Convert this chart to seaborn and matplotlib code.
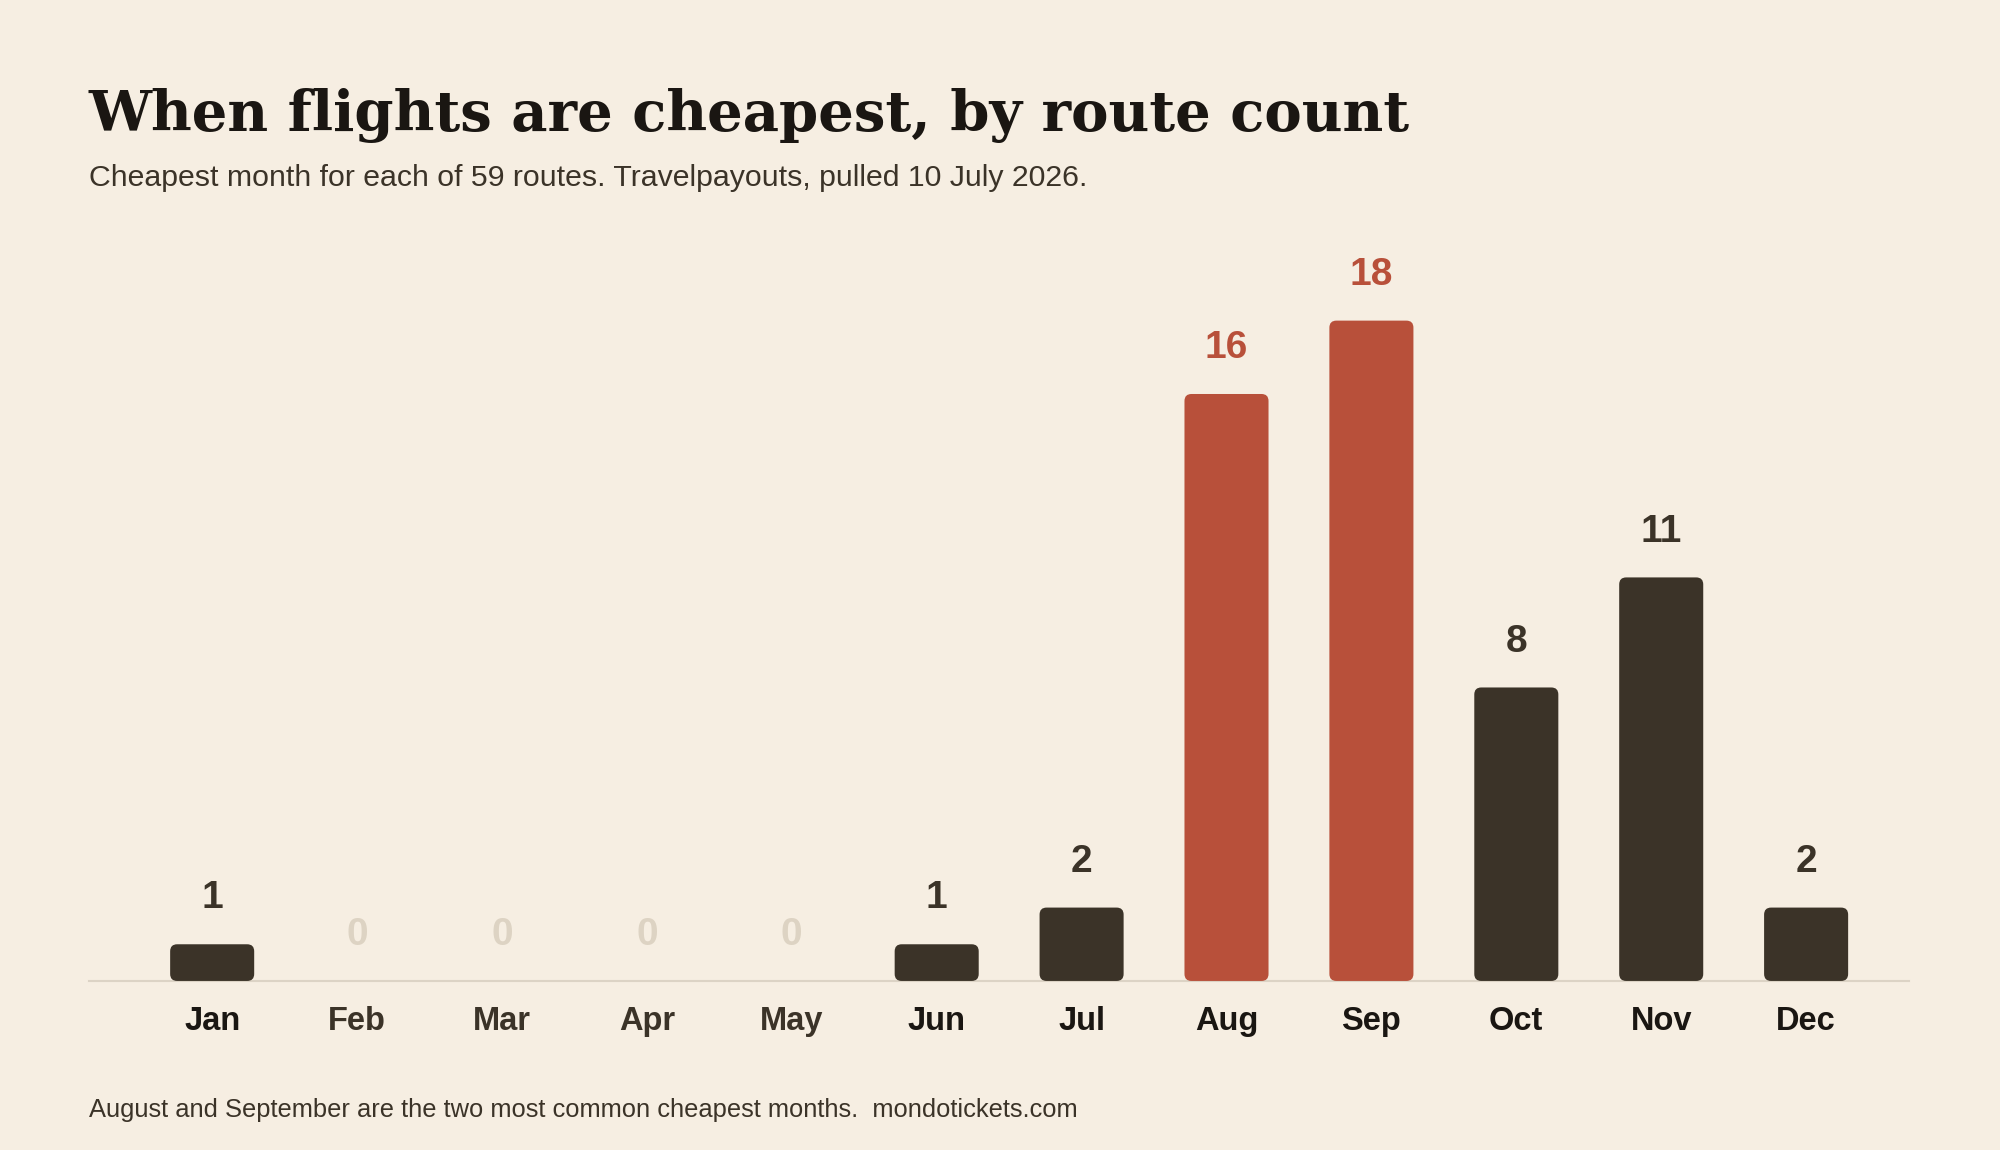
import numpy as np
import pandas as pd
import seaborn as sns
import matplotlib.pyplot as plt
from matplotlib.patches import FancyBboxPatch

# data
months = ['Jan', 'Feb', 'Mar', 'Apr', 'May', 'Jun', 'Jul', 'Aug', 'Sep', 'Oct', 'Nov', 'Dec']
route_counts = [1, 0, 0, 0, 0, 1, 2, 16, 18, 8, 11, 2]
highlight = ['Aug', 'Sep']

title = 'When flights are cheapest, by route count'
subtitle = 'Cheapest month for each of 59 routes. Travelpayouts, pulled 10 July 2026.'
footer = 'August and September are the two most common cheapest months.  mondotickets.com'

# colours
bg = '#f6eee2'
dark = '#3b3328'
red = '#b8503a'
zero_col = '#ddd3c3'
ink = '#1a1612'

df = pd.DataFrame({'month': months, 'routes': route_counts})
palette = {m: (red if m in highlight else dark) for m in months}

sns.set_style('white')
plt.rcParams['font.family'] = ['Liberation Sans', 'DejaVu Sans']

fig = plt.figure(figsize=(20, 11.5), dpi=100, facecolor=bg)
ax = fig.add_axes([0.0445, 0.147, 0.91, 0.638])
ax.set_facecolor(bg)

sns.barplot(data=df, x='month', y='routes', hue='month', palette=palette,
            legend=False, width=0.58, ax=ax, saturation=1)

ax.set_xlim(-0.85, 11.71)
ax.set_ylim(0, 20)

# swap the square bars for rounded ones
fig.canvas.draw()
px_x = ax.transData.transform((1, 0))[0] - ax.transData.transform((0, 0))[0]
px_y = ax.transData.transform((0, 1))[1] - ax.transData.transform((0, 0))[1]
radius_px = 7
for p in list(ax.patches):
    x0, y0 = p.get_x(), p.get_y()
    w, h = p.get_width(), p.get_height()
    col = p.get_facecolor()
    p.remove()
    if h <= 0:
        continue
    box = FancyBboxPatch((x0, y0), w, h,
                         boxstyle=f'round,pad=0,rounding_size={radius_px / px_x}',
                         mutation_aspect=px_x / px_y,
                         facecolor=col, edgecolor='none', zorder=3)
    ax.add_patch(box)

# value labels
for i, (m, v) in enumerate(zip(months, route_counts)):
    if v == 0:
        c = zero_col
    elif m in highlight:
        c = red
    else:
        c = dark
    ax.annotate(str(v), (i, v), xytext=(0, 33), textcoords='offset points',
                ha='center', va='center', fontsize=28, fontweight='bold', color=c)

for s in ['top', 'right', 'left']:
    ax.spines[s].set_visible(False)
ax.spines['bottom'].set_color('#dcd3c5')
ax.spines['bottom'].set_linewidth(1.5)
ax.set_yticks([])
ax.set_xlabel('')
ax.set_ylabel('')
ax.tick_params(axis='x', length=0, pad=18)
ax.set_xticks(range(len(months)))
ax.set_xticklabels(months, fontsize=23.5, fontweight='bold')
for lbl, v in zip(ax.get_xticklabels(), route_counts):
    lbl.set_color(dark if v == 0 else ink)

fig.text(0.0445, 1 - 131 / 1150, title, fontsize=40.4, fontweight='bold',
         family=['DejaVu Serif'], color=ink, va='baseline')
fig.text(0.0445, 1 - 178 / 1150, subtitle, fontsize=21.8, color='#3b3328', va='center')
fig.text(0.0445, 1 - 1110 / 1150, footer, fontsize=18.4, color='#3b3328', va='center')

fig.savefig('out.png', dpi=100, facecolor=bg)
